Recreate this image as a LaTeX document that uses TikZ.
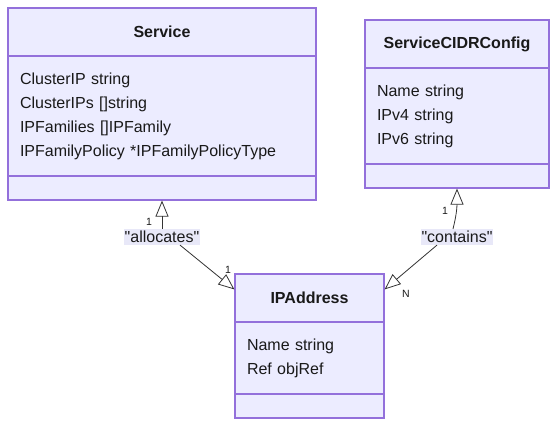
\documentclass[tikz,border=0pt]{standalone}
\usepackage{fontspec}
\setmainfont{Liberation Sans}
\newfontfamily\plainfont{Liberation Sans}
\usepackage{xcolor}
\usetikzlibrary{positioning,arrows.meta,calc}
\definecolor{umlfill}{HTML}{ECECFF}
\definecolor{umlborder}{HTML}{9370DB}
\definecolor{umlline}{HTML}{333333}
\definecolor{umllabel}{HTML}{E8E8F8}
\tikzset{
  part/.style={rectangle,draw=umlborder,fill=umlfill,line width=1.2pt,inner sep=0pt,font=\fontsize{16}{24}\selectfont,text=black!90},
  headpart/.style={part,font=\fontsize{16}{24}\selectfont\bfseries},
  attrpart/.style={part,align=left,inner xsep=12pt},
  edgelabel/.style={fill=umllabel,inner xsep=1pt,inner ysep=2pt,font=\plainfont\fontsize{16}{20}\selectfont,text=black!90},
  mult/.style={font=\fontsize{10.5}{12}\selectfont,text=black!90,inner sep=0pt},
  inherit/.style={draw=umlline,line width=0.8pt,-{Triangle[open,length=16pt,width=13pt]}}
}
\begin{document}
\begin{tikzpicture}[x=1pt,y=-1pt]
  \useasboundingbox (0,0) rectangle (557,426);
  % Service
  \node[headpart, minimum width=308, minimum height=48] (svc-head) at (162,32) {Service};
  \node[attrpart, minimum width=308, minimum height=120, text width=284] (svc-attr) at (162,116)
    {ClusterIP string\\ClusterIPs []string\\IPFamilies []IPFamily\\IPFamilyPolicy *IPFamilyPolicyType};
  \node[part, minimum width=308, minimum height=24] (svc-meth) at (162,188) {};
  % ServiceCIDRConfig
  \node[headpart, minimum width=184, minimum height=48] (cidr-head) at (457,44) {ServiceCIDRConfig};
  \node[attrpart, minimum width=184, minimum height=96, text width=160] (cidr-attr) at (457,116)
    {Name string\\IPv4 string\\IPv6 string};
  \node[part, minimum width=184, minimum height=24] (cidr-meth) at (457,176) {};
  % IPAddress
  \node[headpart, minimum width=149, minimum height=48] (ip-head) at (309.5,298) {IPAddress};
  \node[attrpart, minimum width=149, minimum height=72, text width=125] (ip-attr) at (309.5,358)
    {Name string\\Ref objRef};
  \node[part, minimum width=149, minimum height=24] (ip-meth) at (309.5,406) {};

  % relations
  \node[edgelabel] (alloc) at (162,237) {"allocates"};
  \node[edgelabel] (contain) at (457,237) {"contains"};
  \coordinate (ip-left) at ($(ip-head.north west)+(0,16)$);
  \coordinate (ip-right) at ($(ip-head.north east)+(0,16)$);

  \draw[inherit] (alloc.north) -- (svc-meth.south);
  \draw[inherit] ($(alloc.south)+(18,0)$) -- (ip-left);
  \draw[inherit] ($(contain.north)+(-4,0)$) .. controls +(3,-12) and +(0,20) .. (cidr-meth.south);
  \draw[inherit] ($(contain.south)+(-20,0)$) -- (ip-right);

  \node[mult] (m1) at (149,222) {1};
  \node[mult] (m2) at (228,270) {1};
  \node[mult] (m3) at (445,211) {1};
  \node[mult] (m4) at (406,294) {N};
\end{tikzpicture}
\end{document}
